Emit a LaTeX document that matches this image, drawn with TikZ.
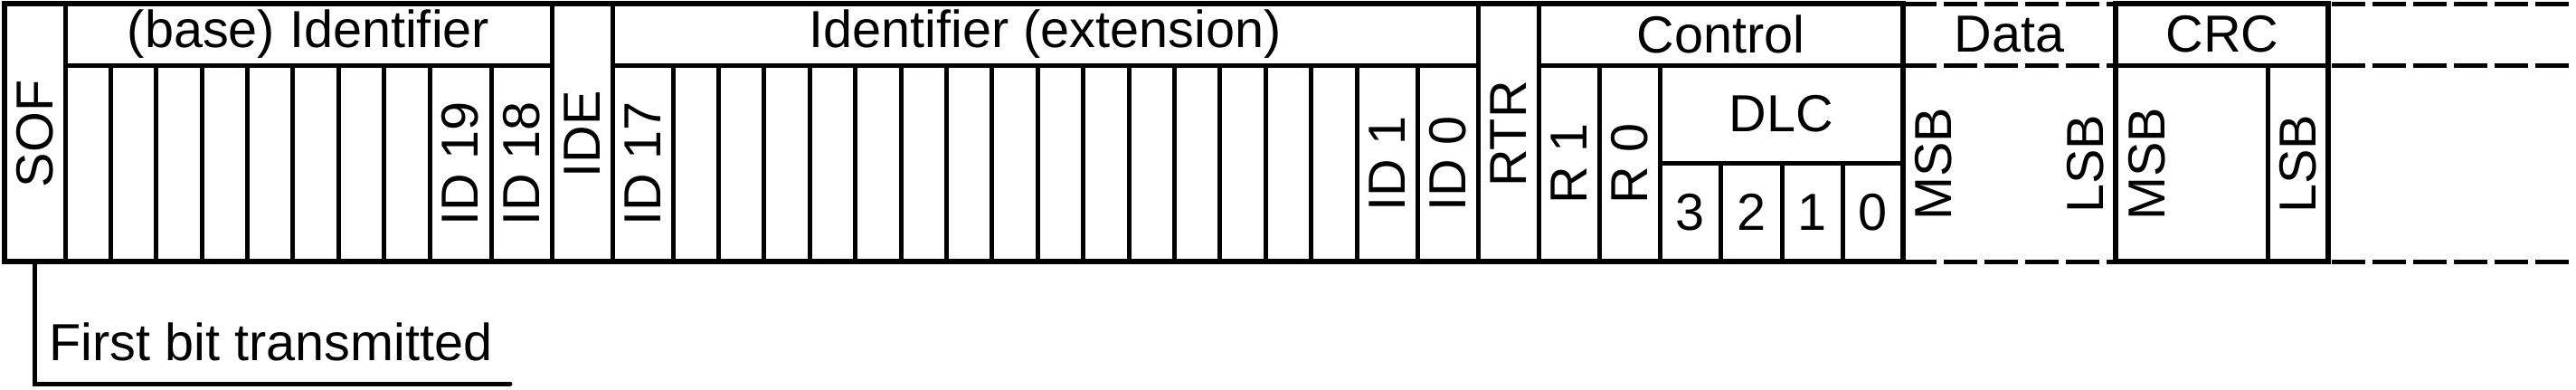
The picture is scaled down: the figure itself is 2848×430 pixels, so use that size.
\documentclass[tikz,border=0pt]{standalone}
\usepackage{fontspec}
\setmainfont{Liberation Sans}
\begin{document}
\begin{tikzpicture}[x=0.25pt,y=-0.25pt,
  outer/.style={line width=1.5pt},
  inner/.style={line width=1.25pt},
  dashline/.style={line width=1.25pt, dash pattern=on 9.25pt off 2pt},
  lbl/.style={inner sep=0pt, font=\fontsize{14.4}{17}\selectfont},
  vlbl/.style={lbl, rotate=90}]
\useasboundingbox (0,0) rectangle (2848,430);
% solid frames
\draw[outer] (5,4) rectangle (2104,289);
\draw[outer] (2339,4) rectangle (2574,289);
% full-height separators
\foreach \x in {72,610,677,1634,1701} \draw[inner] (\x,4) -- (\x,289);
% header separators
\draw[inner] (72,72) -- (610,72);
\draw[inner] (677,72) -- (1634,72);
\draw[inner] (1701,72) -- (2104,72);
\draw[inner] (2339,72) -- (2574,72);
% base identifier bit cells
\foreach \i in {1,...,8} \draw[inner] ({72+50.375*\i},72) -- ({72+50.375*\i},289);
\draw[inner] (543,72) -- (543,289);
% extension identifier bit cells
\foreach \i in {0,...,15} \draw[inner] ({744+50.4*\i},72) -- ({744+50.4*\i},289);
\draw[inner] (1567,72) -- (1567,289);
% control cells
\draw[inner] (1768,72) -- (1768,289);
\draw[inner] (1835,72) -- (1835,289);
\draw[inner] (1835,180) -- (2104,180);
\foreach \x in {1902,1970,2037} \draw[inner] (\x,180) -- (\x,289);
% CRC
\draw[inner] (2507,72) -- (2507,289);
% dashed data area and continuation
\foreach \y in {4,72,289} {
  \draw[dashline] (2104,\y) -- (2339,\y);
  \draw[dashline] (2578,\y) -- (2848,\y);
}
% labels
\node[vlbl] (sof) at (38.5,148) {SOF};
\node[lbl] (base) at (341,38) {(base) Identifier};
\node[vlbl] (id19) at (509,181) {ID 19};
\node[vlbl] (id18) at (576.5,181) {ID 18};
\node[vlbl] (ide) at (643.5,148) {IDE};
\node[lbl] (ext) at (1155.5,38) {Identifier (extension)};
\node[vlbl] (id17) at (710.5,181) {ID 17};
\node[vlbl] (id1) at (1533.5,181) {ID 1};
\node[vlbl] (id0) at (1600.5,181) {ID 0};
\node[vlbl] (rtr) at (1667.5,148) {RTR};
\node[lbl] (ctrl) at (1902.5,38) {Control};
\node[vlbl] (r1) at (1734.5,181) {R 1};
\node[vlbl] (r0) at (1801.5,181) {R 0};
\node[lbl] (dlc) at (1969.5,126) {DLC};
\node[lbl] (d3) at (1868.5,234.5) {3};
\node[lbl] (d2) at (1936,234.5) {2};
\node[lbl] (d1) at (2003.5,234.5) {1};
\node[lbl] (d0) at (2070.5,234.5) {0};
\node[lbl] (data) at (2221.5,38) {Data};
\node[vlbl] (dmsb) at (2137.5,181) {MSB};
\node[vlbl] (dlsb) at (2305.5,181) {LSB};
\node[lbl] (crc) at (2457,38) {CRC};
\node[vlbl] (cmsb) at (2373.5,181) {MSB};
\node[vlbl] (clsb) at (2540.5,181) {LSB};
% leader
\coordinate (sofbot) at (38,289);
\coordinate (leadend) at (564,424);
\draw[inner, line cap=round] (sofbot) |- (leadend);
\node[lbl, anchor=base west] (first) at (54,398) {First bit transmitted};
\end{tikzpicture}
\end{document}
